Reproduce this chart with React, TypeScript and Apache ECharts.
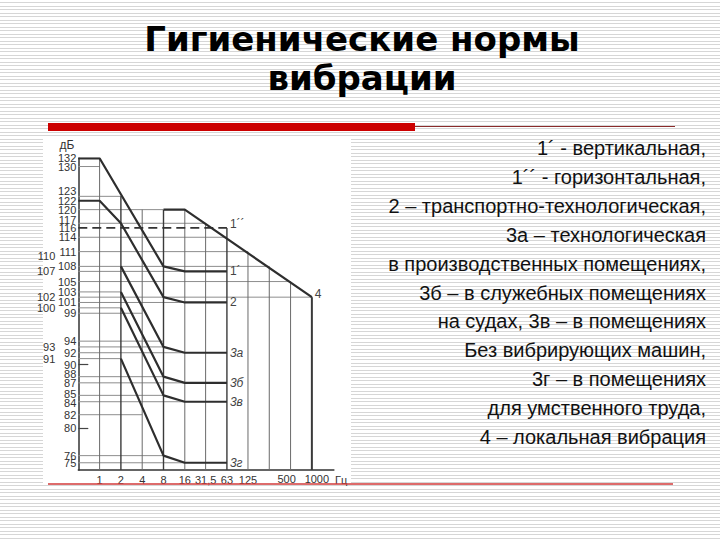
import React, { useEffect, useRef } from 'react';
import * as echarts from 'echarts';

// ---------- texts ----------
const titleLines = ['Гигиенические нормы', 'вибрации'];
const legendLines = [
  '1´ - вертикальная,',
  '1´´ - горизонтальная,',
  '2 – транспортно-технологическая,',
  '3а – технологическая',
  'в производственных помещениях,',
  '3б – в служебных помещениях',
  'на судах, 3в – в помещениях',
  'Без вибрирующих машин,',
  '3г – в помещениях',
  'для умственного труда,',
  '4 – локальная вибрация',
];

// ---------- axes ----------
const freqTicks = [1, 2, 4, 8, 16, 31.5, 63, 125, 500, 1000];
const dbTicksInner = [132, 130, 123, 122, 120, 117, 116, 114, 111, 108, 105, 103, 101, 99, 94, 92, 90, 88, 87, 85, 84, 82, 80, 76, 75];
const dbTicksOuter = [110, 107, 102, 100, 93, 91];
const dbMarks = [90, 80];
const X_MIN = 0.5;
const X_MAX = 2048;
const Y_MIN = 74;
const Y_MAX = 132;

// ---------- curves: [frequency Hz, level dB] ----------
const curve1V = [[0.5, 132], [1, 132], [8, 108], [16, 107], [63, 107]];
const curve1H = [[0.5, 116], [63, 116]];
const curve2 = [[0.5, 122], [1, 122], [2, 117], [8, 102], [16, 101], [63, 101]];
const curve3a = [[2, 108], [8, 93], [16, 92], [63, 92]];
const curve3b = [[2, 103], [8, 88], [16, 87], [63, 87]];
const curve3v = [[2, 100], [8, 85], [16, 84], [63, 84]];
const curve3g = [[2, 91], [8, 76], [16, 75], [63, 75]];
const curve4 = [[8, 120], [16, 120], [1000, 102]];

// ---------- drawing grid of the nomogram ----------
const hGridLevels = [130, 123, 120, 117, 114, 111, 108, 107, 105, 103, 102, 101, 100, 99, 94, 93, 92, 91, 88, 87, 85, 84, 82, 76, 75];
const hGridEnds = [1, 2, 8, 31.5, 63, 125, 250, 16, 500, 2, 1000, 16, 2, 4, 8, 8, 16, 2, 8, 16, 8, 16, 4, 8, 16];
const vGridFreqs = [1, 2, 4, 8, 16, 31.5, 63, 125, 250, 500, 1000];
const vGridTops = [132, 123, 120, 120, 120, 117, 116, 111, 108, 105, 102];
const vGridStrong = [2, 8, 63, 1000];

const FONT = "'Liberation Sans', Arial, sans-serif";

// ECharts compares only the first two and last two custom labels for overlap and may hide one;
// hand them over with well separated labels at both ends so every label stays visible.
function spreadEnds(values: number[], first: number, last: number) {
  const rest = values.filter((v) => v !== first && v !== last);
  return [first, ...rest, last];
}

function nearestFreq(v: number) {
  let best = freqTicks[0];
  for (const t of freqTicks) if (Math.abs(Math.log2(v) - Math.log2(t)) < Math.abs(Math.log2(v) - Math.log2(best))) best = t;
  return best;
}

const tok = { fontSize: 11, color: '#333', fontFamily: FONT, lineHeight: 9 };
const labelRich = {
  u11: { ...tok, padding: [0, 0, 11, 0] },
  u6: { ...tok, padding: [0, 0, 6, 0] },
  u5: { ...tok, padding: [0, 0, 5, 0] },
  u2: { ...tok, padding: [0, 0, 2, 0] },
  d3: { ...tok, padding: [3, 0, 0, 0] },
  l: { ...tok, padding: [0, 8, 0, 0] },
  r: { ...tok, padding: [0, 0, 0, 10] },
};

export default function App() {
  const ref = useRef<HTMLDivElement>(null);
  useEffect(() => {
    const chart = echarts.init(ref.current!, null, { renderer: 'svg' });

    const hSeries = hGridLevels.map((lv, i) => ({
      type: 'line', silent: true, symbol: 'none', z: 1,
      data: [[X_MIN, lv], [hGridEnds[i], lv]],
      lineStyle: { color: '#8d8d8d', width: 1 },
    }));
    const vSeries = vGridFreqs.map((f, i) => ({
      type: 'line', silent: true, symbol: 'none', z: 1,
      data: [[f, vGridTops[i]], [f, Y_MIN]],
      lineStyle: vGridStrong.includes(f) ? { color: '#3a3a3a', width: f === 1000 ? 2 : 1.4 } : { color: '#6a6a6a', width: 1 },
    }));
    const curves = [
      { label: '1´', data: curve1V, italic: false, dy: 0, dashed: false },
      { label: '1´´', data: curve1H, italic: false, dy: -4, dashed: true },
      { label: '2', data: curve2, italic: false, dy: 0, dashed: false },
      { label: '3а', data: curve3a, italic: true, dy: 0, dashed: false },
      { label: '3б', data: curve3b, italic: true, dy: 0, dashed: false },
      { label: '3в', data: curve3v, italic: true, dy: 0, dashed: false },
      { label: '3г', data: curve3g, italic: true, dy: 0, dashed: false },
      { label: '4', data: curve4, italic: false, dy: -3, dashed: false },
    ];
    const curveSeries = curves.map((c) => ({
      type: 'line', silent: true, symbol: 'none', z: 3,
      data: c.data,
      lineStyle: c.dashed ? { color: '#333', width: 1.6, type: [9, 5] } : { color: '#2e2e2e', width: 2.2 },
      endLabel: {
        show: true, formatter: c.label, distance: 3, offset: [0, c.dy],
        fontSize: 12, color: '#444', fontFamily: FONT, fontStyle: c.italic ? 'italic' : 'normal',
      },
    }));

    const option: any = {
      animation: false,
      title: {
        text: titleLines.join('\n'),
        left: 357, top: 14, textAlign: 'center',
        textStyle: { fontFamily: "'DejaVu Sans', sans-serif", fontWeight: 'bold', fontSize: 34, lineHeight: 39, color: '#000' },
      },
      graphic: [
        { type: 'rect', z: -10, shape: { x: 43, y: 139, width: 308, height: 344 }, style: { fill: '#ffffff' } },
        { type: 'rect', z: 5, shape: { x: 48, y: 123, width: 367, height: 8 }, style: { fill: '#cc0000' } },
        { type: 'line', z: 5, shape: { x1: 415, y1: 126.5, x2: 675, y2: 126.5 }, style: { stroke: '#8a2a2a', lineWidth: 1 } },
        { type: 'line', z: 5, shape: { x1: 48, y1: 484, x2: 673, y2: 484 }, style: { stroke: '#d23a3a', lineWidth: 1.5 } },
        {
          type: 'group', z: 5,
          children: legendLines.map((t, i) => ({
            type: 'text', x: 706, y: 148 + i * 28.9,
            style: { text: t, align: 'right', verticalAlign: 'middle', font: `20px ${FONT}`, fill: '#111' },
          })),
        },
      ],
      grid: { left: 78.3, top: 158.3, right: 386.1, bottom: 70, containLabel: false, outerBoundsMode: 'none' },
      xAxis: {
        type: 'log', logBase: 2, min: X_MIN, max: X_MAX,
        name: 'Гц', nameLocation: 'end', nameGap: -2,
        nameTextStyle: { fontSize: 11, color: '#333', fontFamily: FONT, verticalAlign: 'top', padding: [4, 0, 0, 0] },
        axisLine: { lineStyle: { color: '#333', width: 1.5 } },
        axisTick: { show: false },
        splitLine: { show: false },
        minorSplitLine: { show: false },
        axisLabel: {
          customValues: spreadEnds(freqTicks, 1, 16), margin: 4, fontSize: 11, color: '#333', fontFamily: FONT, rich: labelRich,
          formatter: (v: number) => {
            const f = nearestFreq(v);
            const s = String(f).replace('.', ',');
            if (f === 500) return `{l|${s}}`;
            if (f === 1000) return `{r|${s}}`;
            return s;
          },
        },
      },
      yAxis: [
        {
          type: 'log', min: Y_MIN, max: Y_MAX, position: 'left',
          name: 'дБ', nameLocation: 'end', nameGap: 7,
          nameTextStyle: { fontSize: 12, color: '#333', fontFamily: FONT, align: 'right', padding: [0, 4, 0, 0] },
          axisLine: { show: true, lineStyle: { color: '#333', width: 1.5 } },
          axisTick: { show: true, customValues: dbMarks, inside: true, length: 10, lineStyle: { color: '#444', width: 1.2 } },
          splitLine: { show: false },
          minorSplitLine: { show: false },
          axisLabel: {
            customValues: spreadEnds(dbTicksInner, 111, 99), margin: 2, fontSize: 11, lineHeight: 9, color: '#333', fontFamily: FONT, rich: labelRich,
            formatter: (v: number) => {
              const r = Math.round(v);
              if (r === 123) return `{u11|${r}}`;
              if (r === 117) return `{u6|${r}}`;
              if (r === 88) return `{u5|${r}}`;
              if (r === 85) return `{u2|${r}}`;
              if (r === 84) return `{d3|${r}}`;
              return String(r);
            },
          },
        },
        {
          type: 'log', min: Y_MIN, max: Y_MAX, position: 'left', offset: 21,
          axisLine: { show: false }, axisTick: { show: false }, splitLine: { show: false }, minorSplitLine: { show: false },
          axisLabel: {
            customValues: dbTicksOuter, margin: 2, fontSize: 11, lineHeight: 9, color: '#333', fontFamily: FONT,
            formatter: (v: number) => String(Math.round(v)),
          },
        },
      ],
      series: [...hSeries, ...vSeries, ...curveSeries],
    };
    chart.setOption(option);
    return () => chart.dispose();
  }, []);

  const stripes = 'repeating-linear-gradient(to bottom, #ffffff 0px, #ffffff 2.5px, #d6d6d6 2.5px, #d6d6d6 3.5px)';
  return (
    <div style={{ position: 'fixed', left: 0, top: 0, width: 720, height: 540, background: stripes }}>
      <div ref={ref} style={{ width: 720, height: 540 }} />
    </div>
  );
}
